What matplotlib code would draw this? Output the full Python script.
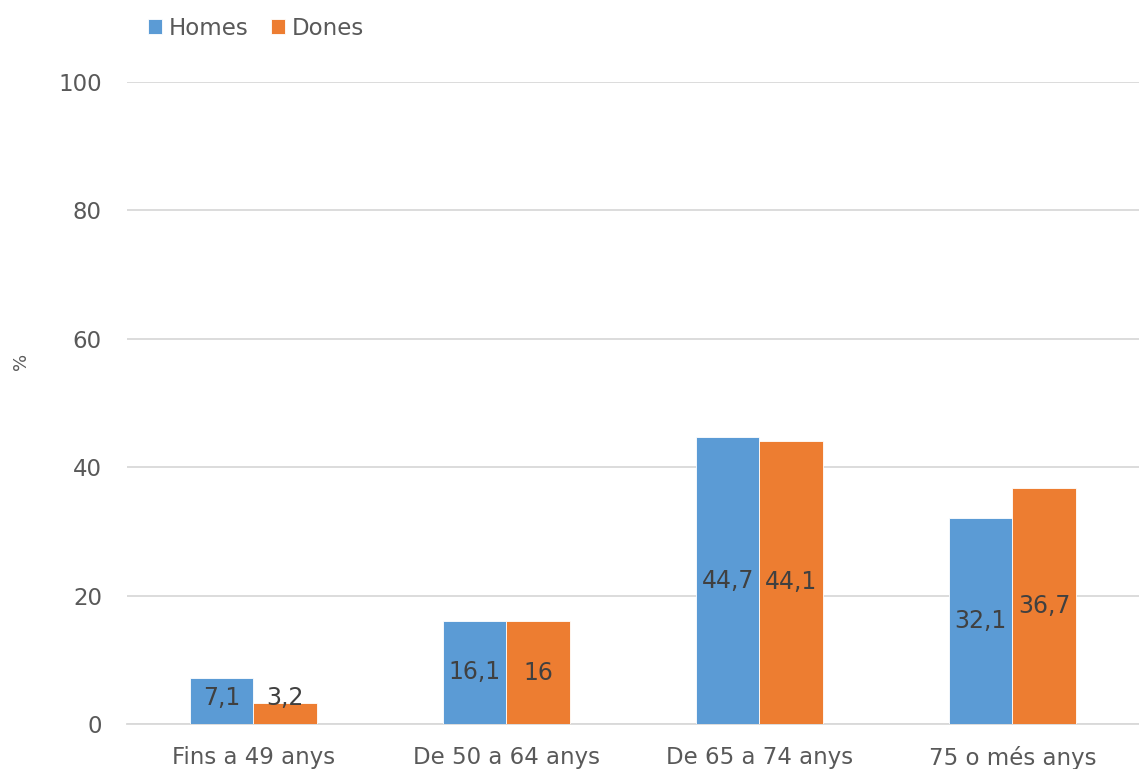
import numpy as np
import matplotlib.pyplot as plt

plt.rcParams['font.family'] = 'DejaVu Sans'

# --- data ---
categories = ['Fins a 49 anys', 'De 50 a 64 anys', 'De 65 a 74 anys', '75 o més anys']
homes = [7.1, 16.1, 44.7, 32.1]
dones = [3.2, 16.0, 44.1, 36.7]
series_names = ['Homes', 'Dones']
colors = ['#5B9BD5', '#ED7D31']

fig = plt.figure(figsize=(11.39, 7.69), dpi=100)
ax = fig.add_axes([0.1115, 0.0585, 0.8885, 0.835])

x = np.arange(len(categories))
w = 0.25
bars_h = ax.bar(x - w / 2, homes, w, color=colors[0], edgecolor='white', linewidth=0.6, label=series_names[0], zorder=3)
bars_d = ax.bar(x + w / 2, dones, w, color=colors[1], edgecolor='white', linewidth=0.6, label=series_names[1], zorder=3)

def fmt(v):
    return f'{v:g}'.replace('.', ',')

# labels centred in the bar, lifted a bit for very short bars
for bars, vals in [(bars_h, homes), (bars_d, dones)]:
    for b, v in zip(bars, vals):
        ax.text(b.get_x() + b.get_width() / 2, max(v / 2, 4.0), fmt(v),
                ha='center', va='center', fontsize=17, color='#404040', zorder=4)

ax.set_xlim(-0.5, 3.5)
ax.set_ylim(0, 100)
ax.set_yticks(np.arange(0, 101, 20))
ax.set_xticks(x)
ax.set_xticklabels(categories)
ax.tick_params(axis='both', length=0, labelsize=16.5, colors='#595959')
ax.tick_params(axis='y', pad=18)
ax.tick_params(axis='x', pad=16)
ax.grid(axis='y', color='#d9d9d9', linewidth=1.3, zorder=0)
for s in ['top', 'right', 'left']:
    ax.spines[s].set_visible(False)
ax.spines['bottom'].set_color('#d9d9d9')
ax.spines['bottom'].set_linewidth(1.3)

fig.text(0.018, 0.53, '%', rotation=90, fontsize=13, color='#595959', ha='center', va='center')

fig.legend(loc='upper left', bbox_to_anchor=(0.112, 1.005), ncol=2, frameon=False,
           fontsize=16.5, handlelength=0.6, handleheight=0.6, handletextpad=0.3,
           columnspacing=1.0, labelcolor='#595959')

fig.savefig('out.png', dpi=100)
